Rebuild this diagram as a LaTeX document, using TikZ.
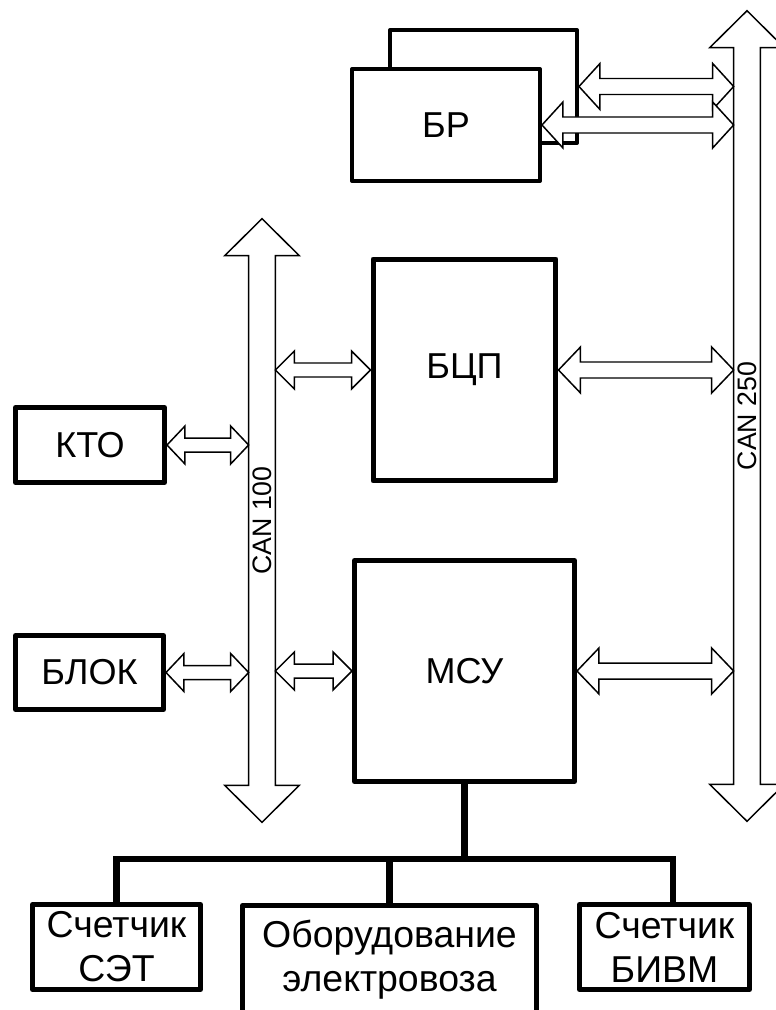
\documentclass[tikz,border=0pt]{standalone}
\usepackage{fontspec}
\setmainfont{Liberation Sans}
\usepackage{tikz}
\usetikzlibrary{calc}

% hollow two-headed arrow: left end, right end, shaft half, head half, head length
\newcommand{\biarrow}[5]{%
  \draw[conn] (#1) -- ($(#1)+(#5,-#4)$) -- ($(#1)+(#5,-#3)$) -- ($(#2)+(-#5,-#3)$)
    -- ($(#2)+(-#5,-#4)$) -- (#2) -- ($(#2)+(-#5,#4)$) -- ($(#2)+(-#5,#3)$)
    -- ($(#1)+(#5,#3)$) -- ($(#1)+(#5,#4)$) -- cycle;}
% bus: shaft node, head overhang, head length
\newcommand{\busarrow}[3]{%
  \draw[conn] (#1.north west) -- ++(-#2,0) -- ($(#1.north)+(0,-#3)$) -- ($(#1.north east)+(#2,0)$)
    -- (#1.north east) -- (#1.south east) -- ++(#2,0) -- ($(#1.south)+(0,#3)$)
    -- ($(#1.south west)+(-#2,0)$) -- (#1.south west) -- cycle;}

\begin{document}
\begin{tikzpicture}[x=0.02cm,y=-0.02cm,
  block/.style={draw,line width=2.85pt,line join=round,fill=white,inner sep=0pt,
    align=center,font=\fontsize{20.5}{24}\selectfont},
  lowblock/.style={block,font=\fontsize{21.3}{25}\selectfont},
  conn/.style={draw,fill=white,line width=0.85pt},
  bus/.style={inner sep=0pt,minimum width=0.52cm},
  tree/.style={line width=3.7pt},
  canlabel/.style={rotate=90,inner sep=0pt,font=\fontsize{15.2}{18}\selectfont}]
  \useasboundingbox (0,0) rectangle (776,1010);

  % BR (two units)
  \node[block,line width=2.27pt,minimum width=3.74cm,minimum height=2.26cm] (brback) at (483.5,86.5) {};
  \node[block,line width=2.27pt,minimum width=3.76cm,minimum height=2.24cm] (br) at (446,125) {БР};

  % blocks
  \node[block,minimum width=2.98cm,minimum height=1.5cm] (kto) at (90,445) {КТО};
  \node[block,minimum width=2.96cm,minimum height=1.48cm] (blok) at (89.5,672.5) {БЛОК};
  \node[block,minimum width=3.66cm,minimum height=4.44cm] (bcp) at (464.5,370) {БЦП};
  \node[block,minimum width=4.4cm,minimum height=4.42cm] (msu) at (464.5,671) {МСУ};
  \node[lowblock,minimum width=3.36cm,minimum height=1.7cm] (set) at (116.5,947) {Счетчик\\СЭТ};
  \node[lowblock,minimum width=5.88cm,minimum height=2.18cm] (equip) at (389.5,960) {Оборудование\\электровоза};
  \node[lowblock,minimum width=3.4cm,minimum height=1.7cm] (bivm) at (664.5,947) {Счетчик\\БИВМ};

  % CAN buses
  \node[bus,minimum height=10.58cm] (can100) at (262,520.5) {};
  \node[bus,minimum height=14.72cm] (can250) at (747,416) {};
  \busarrow{can100}{24}{37}
  \busarrow{can250}{24}{37}
  \node[canlabel] (can100txt) at (can100.center) {CAN 100};
  \node[canlabel] (can250txt) at (can250.center) {CAN 250};

  % links to CAN 100
  \biarrow{kto.east}{kto.east -| can100.west}{7}{19}{18}
  \biarrow{blok.east}{blok.east -| can100.west}{7}{19}{18}
  \biarrow{bcp.west -| can100.east}{bcp.west}{7}{19}{19}
  \biarrow{msu.west -| can100.east}{msu.west}{7}{19}{19}

  % links to CAN 250
  \biarrow{brback.east}{brback.east -| can250.west}{8}{23}{21}
  \biarrow{br.east}{br.east -| can250.west}{8}{23}{21}
  \biarrow{bcp.east}{bcp.east -| can250.west}{8}{23}{22}
  \biarrow{msu.east}{msu.east -| can250.west}{8}{23}{22}

  % MSU outputs
  \coordinate (jn) at (465,859);
  \draw[tree] (msu.south) -- (msu.south |- jn);
  \draw[tree] (set.north) -- (set.north |- jn) -- ([xshift=0.17cm]bivm.north |- jn) -- ([xshift=0.17cm]bivm.north);
  \draw[tree] (equip.north) -- (equip.north |- jn);
\end{tikzpicture}
\end{document}
